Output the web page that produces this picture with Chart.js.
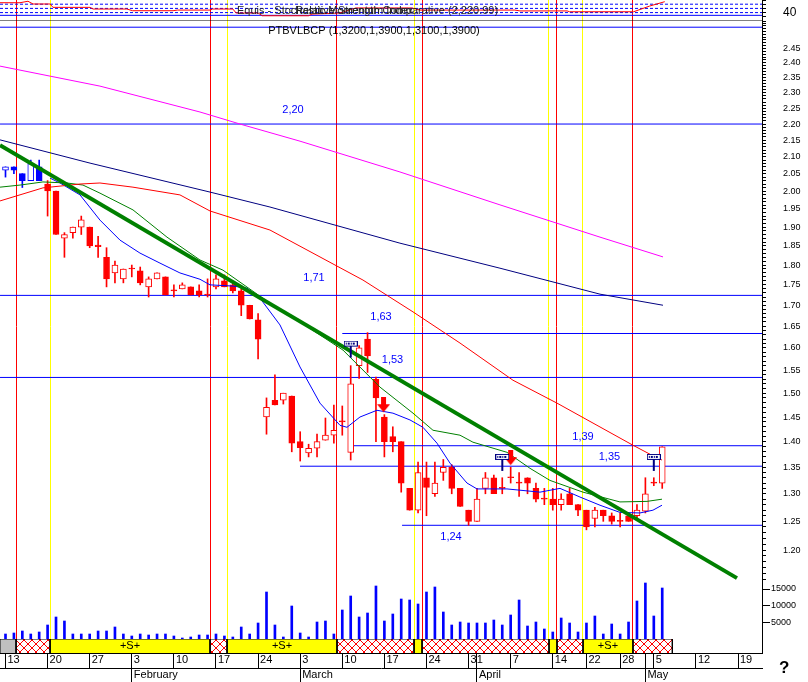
<!DOCTYPE html>
<html>
<head>
<meta charset="utf-8">
<script src="https://cdn.jsdelivr.net/npm/chart.js@4.4.0/dist/chart.umd.min.js"></script>
<style>
  html, body { margin: 0; padding: 0; background: #fff; }
  canvas { display: block; }
</style>
</head>
<body>
<canvas id="chart" width="808" height="682"></canvas>
<script>
// x values are trading-day indexes, 0 = Mon 13 Jan 2003
const dayTickIdx = [0, 5, 10, 15, 20, 25, 30, 35, 40, 45, 50, 55, 56, 60, 65, 69, 73, 76, 77, 82, 87];
const dayTickLbl = ['13', '20', '27', '3', '10', '17', '24', '3', '10', '17', '24', '31', '', '7', '14', '22', '28', '', '5', '12', '19'];
const monthTickIdx = [15, 35, 56, 76];
const monthTickLbl = ['February', 'March', 'April', 'May'];

const opens = [2.06, 2.07, 2.05, 2.03, 2.07, 2.02, 2.00, 1.87, 1.885, 1.90,
  1.90, 1.852, 1.82, 1.78, 1.765, 1.79, 1.785, 1.745, 1.765, 1.77,
  1.735, 1.74, 1.745, 1.735, 1.725, 1.745, 1.76, 1.75, 1.735, 1.70,
  1.665, 1.45, 1.485, 1.485, 1.494, 1.40, 1.378, 1.387, 1.403, 1.413,
  1.44, 1.379, 1.56, 1.62, 1.53, 1.45, 1.41, 1.40, 1.31, 1.27,
  1.33, 1.30, 1.34, 1.35, 1.31, 1.27, 1.25, 1.31, 1.33, 1.31,
  1.33, 1.32, 1.33, 1.31, 1.29, 1.29, 1.28, 1.30, 1.28, 1.27,
  1.255, 1.27, 1.26, 1.25, 1.26, 1.26, 1.268, 1.32, 1.32];
const highs = [2.07, 2.07, 2.05, 2.09, 2.09, 2.03, 2.00, 1.885, 1.90, 1.93,
  1.90, 1.875, 1.845, 1.81, 1.79, 1.80, 1.795, 1.77, 1.78, 1.77,
  1.75, 1.755, 1.745, 1.75, 1.765, 1.775, 1.775, 1.755, 1.74, 1.70,
  1.68, 1.49, 1.54, 1.50, 1.494, 1.42, 1.395, 1.415, 1.448, 1.475,
  1.473, 1.56, 1.605, 1.635, 1.535, 1.455, 1.43, 1.40, 1.31, 1.36,
  1.36, 1.36, 1.365, 1.355, 1.31, 1.27, 1.31, 1.34, 1.335, 1.33,
  1.35, 1.34, 1.33, 1.32, 1.31, 1.31, 1.30, 1.31, 1.28, 1.27,
  1.275, 1.27, 1.265, 1.265, 1.265, 1.28, 1.33, 1.33, 1.39];
const lows = [2.04, 2.05, 2.01, 2.03, 2.03, 1.93, 1.88, 1.82, 1.87, 1.88,
  1.845, 1.82, 1.745, 1.755, 1.755, 1.77, 1.75, 1.72, 1.765, 1.725,
  1.72, 1.74, 1.725, 1.72, 1.72, 1.74, 1.745, 1.73, 1.675, 1.667,
  1.575, 1.415, 1.475, 1.477, 1.38, 1.362, 1.37, 1.37, 1.403, 1.397,
  1.413, 1.364, 1.532, 1.545, 1.40, 1.37, 1.38, 1.303, 1.27, 1.265,
  1.26, 1.295, 1.325, 1.30, 1.277, 1.243, 1.25, 1.30, 1.30, 1.30,
  1.32, 1.295, 1.30, 1.285, 1.28, 1.27, 1.27, 1.28, 1.26, 1.235,
  1.24, 1.25, 1.245, 1.24, 1.25, 1.255, 1.265, 1.315, 1.31];
const closes = [2.07, 2.06, 2.03, 2.08, 2.03, 2.00, 1.88, 1.88, 1.90, 1.92,
  1.85, 1.848, 1.765, 1.80, 1.79, 1.79, 1.755, 1.765, 1.78, 1.725,
  1.735, 1.75, 1.725, 1.725, 1.725, 1.765, 1.745, 1.735, 1.70, 1.667,
  1.62, 1.47, 1.475, 1.50, 1.397, 1.388, 1.387, 1.40, 1.413, 1.423,
  1.44, 1.52, 1.60, 1.582, 1.49, 1.40, 1.40, 1.32, 1.27, 1.34,
  1.312, 1.32, 1.35, 1.31, 1.277, 1.25, 1.29, 1.33, 1.30, 1.31,
  1.33, 1.32, 1.32, 1.29, 1.29, 1.28, 1.29, 1.28, 1.27, 1.24,
  1.27, 1.26, 1.25, 1.25, 1.25, 1.27, 1.30, 1.32, 1.39];
const volumes = [1500, 1800, 2400, 1500, 2100, 4200, 6600, 5400, 1500, 1500,
  1500, 2400, 2400, 3600, 1500, 900, 1500, 1200, 1500, 1500,
  900, 300, 600, 1200, 1200, 1500, 900, 600, 3600, 1500,
  4800, 14100, 4200, 600, 9900, 1800, 600, 5100, 5400, 1500,
  8700, 12900, 6600, 7800, 15900, 5400, 7500, 12000, 11700, 10500,
  14100, 15600, 8100, 4200, 5100, 4800, 4800, 4800, 5700, 4200,
  7200, 11700, 3900, 5100, 3000, 2100, 6300, 4800, 2100, 4800,
  6900, 1500, 4500, 1500, 5100, 11400, 16800, 6900, 15300];
const blueCandles = 5; // first bars are drawn in blue

// moving averages, sampled along each line
const maPinkIdx = [-0.65, 11.22, 23.1, 27.85, 34.98, 46.85, 58.73, 70.61, 78.09];
const maPinkVal = [2.389, 2.322, 2.238, 2.200, 2.147, 2.055, 1.961, 1.873, 1.821];
const maNavyIdx = [-0.65, 10.04, 24.29, 31.41, 46.85, 58.73, 70.61, 78.09];
const maNavyVal = [2.151, 2.081, 1.997, 1.955, 1.857, 1.792, 1.727, 1.700];
const maRedIdx = [-0.65, 4.45, 8.85, 11.22, 15.14, 20.72, 24.29, 31.41, 42.46, 48.4, 53.98, 60.27, 65.5, 74.52, 77.38, 77.97];
const maRedVal = [1.972, 2.009, 2.020, 2.023, 2.011, 1.989, 1.944, 1.892, 1.762, 1.684, 1.611, 1.528, 1.479, 1.393, 1.368, 1.364];
const maGreenIdx = [-0.65, 1.72, 4.45, 7.3, 9.2, 11.22, 15.14, 19.18, 23.1, 25.83, 31.06, 34.98, 40.08, 44.48, 48.4, 50.77, 53.98, 55.52, 59.56, 62.29, 64.66, 68.59, 72.98, 76.19, 77.97];
const maGreenVal = [2.011, 2.017, 2.026, 2.023, 2.017, 1.994, 1.947, 1.873, 1.813, 1.787, 1.710, 1.660, 1.595, 1.513, 1.458, 1.423, 1.413, 1.399, 1.379, 1.348, 1.325, 1.303, 1.285, 1.286, 1.290];
const maBlueIdx = [5.29, 6.47, 8.85, 11.22, 13.6, 15.97, 18.35, 20.72, 23.1, 24.29, 27.02, 28.68, 30.23, 32.6, 34.98, 37.35, 39.73, 40.56, 42.1, 44.12, 46.02, 48.04, 49.58, 51.25, 52.79, 54.81, 56.0, 59.56, 63.48, 65.86, 68.23, 70.61, 72.98, 75.36, 76.9, 77.97];
const maBlueVal = [2.037, 2.023, 1.989, 1.919, 1.865, 1.831, 1.805, 1.780, 1.764, 1.750, 1.747, 1.742, 1.717, 1.653, 1.557, 1.479, 1.433, 1.429, 1.450, 1.464, 1.458, 1.444, 1.429, 1.397, 1.358, 1.320, 1.309, 1.309, 1.303, 1.310, 1.294, 1.279, 1.266, 1.265, 1.270, 1.279];
const trendIdx = [-0.65, 86.88];
const trendVal = [2.135, 1.153];

// horizontal levels
const levelVal = [2.525, 2.20, 1.724, 1.633, 1.534, 1.392, 1.352, 1.243];
const levelFrom = [-0.65, -0.65, -0.65, 40.0, -0.65, 40.9, 34.98, 47.1];
const levelText = ['', '2,20', '1,71', '1,63', '1,53', '1,39', '1,35', '1,24'];
const levelTextIdx = [0, 34.15, 36.64, 44.6, 45.96, 68.59, 71.73, 52.91];
const levelTextVal = [0, 2.244, 1.767, 1.672, 1.572, 1.409, 1.370, 1.222];

// system signals (vertical lines and the signal strip)
const signalIdx = [1.25, 5.29, 24.29, 26.31, 39.37, 48.52, 49.47, 64.55, 65.5, 68.59, 74.52];
const signalKind = ['sell', 'buy', 'sell', 'buy', 'sell', 'buy', 'sell', 'buy', 'sell', 'buy', 'sell'];
const signalEnd = 79.2;
const exitIdx = [41, 59, 77];
const exitVal = [1.578, 1.343, 1.343];
const arrowIdx = [44.9, 60.0];
const arrowVal = [1.460, 1.354];

// stochastic panel
const stochIdx = [-0.65, 1.72, 2.67, 3.27, 5.28, 5.64, 10.04, 10.4, 14.4, 15.1, 19.9, 20.4, 24.3, 24.6, 27.0, 27.4, 30.0, 30.5, 36.0, 36.4, 39.7, 41.6, 48.3, 49.2, 60.5, 61.1, 66.7, 67.0, 74.6, 76.5, 78.3];
const stochVal = [87, 87, 94, 81, 81, 65, 65, 57, 57, 49, 49, 52, 52, 57, 57, 38, 38, 25, 25, 33, 38, 62, 62, 52, 52, 48, 48, 44, 44, 71, 92];
const stochGuides = [80, 60, 40];
const stochBase = 27;

const X_MIN = -0.653, X_MAX = 89.85;
const FONT = '"Liberation Sans", Arial, sans-serif';

const ctx = document.getElementById('chart').getContext('2d');

function hatchPattern() {
    const c = document.createElement('canvas');
    c.width = 8; c.height = 8;
    const g = c.getContext('2d');
    g.fillStyle = '#fff';
    g.fillRect(0, 0, 8, 8);
    g.strokeStyle = '#ff0000';
    g.lineWidth = 1;
    g.beginPath();
    g.moveTo(0, 0); g.lineTo(8, 8);
    g.moveTo(8, 0); g.lineTo(0, 8);
    g.stroke();
    return ctx.createPattern(c, 'repeat');
}

function exitMarker() {
    const c = document.createElement('canvas');
    c.width = 14; c.height = 34;
    const g = c.getContext('2d');
    g.fillStyle = '#000080';
    g.fillRect(0, 0, 14, 6);
    g.fillStyle = '#fff';
    g.fillRect(1, 1, 12, 4);
    g.fillStyle = '#000080';
    [2, 4, 5, 7, 9, 10].forEach(px => g.fillRect(px, 2, 1, 2));
    g.fillRect(6, 6, 2, 11);
    return c;
}

function arrowMarker() {
    const c = document.createElement('canvas');
    c.width = 13; c.height = 30;
    const g = c.getContext('2d');
    g.fillStyle = '#ff0000';
    g.fillRect(4, 0, 5, 8);
    g.beginPath();
    g.moveTo(0, 7); g.lineTo(13, 7); g.lineTo(6.5, 15); g.closePath();
    g.fill();
    return c;
}

const pts = (xs, ys) => xs.map((x, k) => ({x: x, y: ys[k]}));
const idx = opens.map((_, i) => i);
const candleColor = idx.map(i => i < blueCandles ? '#0000ff' : '#ff0000');
const bodyFill = idx.map(i => closes[i] > opens[i] ? '#ffffff' : candleColor[i]);

function lineSet(data, color, width, axis, order, dash) {
    return {
        type: 'line', data: data, yAxisID: axis, borderColor: color, borderWidth: width,
        pointRadius: 0, tension: 0, fill: false, order: order, borderDash: dash || []
    };
}

const datasets = [];

// stochastic guides
stochGuides.forEach(v => datasets.push(lineSet(pts([X_MIN, X_MAX], [v, v]), '#0000ff', 1, 'stoch', 9, [3, 2])));
datasets.push(lineSet(pts([X_MIN, X_MAX], [stochBase, stochBase]), '#0000ff', 1, 'stoch', 9));
datasets.push(lineSet(pts([X_MIN, X_MAX], [0, 0]), '#000000', 1, 'stoch', 9));
datasets.push(lineSet(pts(stochIdx, stochVal), '#ff0000', 1, 'stoch', 8));

// levels
levelVal.forEach((v, k) => datasets.push(lineSet(pts([levelFrom[k], X_MAX], [v, v]), '#0000ff', 1, 'y', 7)));

// candles
datasets.push({
    type: 'bar', data: idx.map(i => ({x: i, y: [lows[i], highs[i]]})), yAxisID: 'y',
    backgroundColor: candleColor, barThickness: 1, grouped: false, order: 5
});
datasets.push({
    type: 'bar', data: idx.map(i => ({x: i, y: [opens[i], closes[i]]})), yAxisID: 'y',
    backgroundColor: bodyFill, borderColor: candleColor, borderWidth: 1, borderSkipped: false,
    barThickness: 6, minBarLength: 1, grouped: false, order: 4
});

// moving averages and trend line
datasets.push(lineSet(pts(maPinkIdx, maPinkVal), '#ff00ff', 1, 'y', 3));
datasets.push(lineSet(pts(maNavyIdx, maNavyVal), '#000080', 1, 'y', 3));
datasets.push(lineSet(pts(maRedIdx, maRedVal), '#ff0000', 1, 'y', 3));
datasets.push(lineSet(pts(maGreenIdx, maGreenVal), '#008000', 1, 'y', 3));
datasets.push(lineSet(pts(maBlueIdx, maBlueVal), '#0000ff', 1, 'y', 3));
datasets.push(lineSet(pts(trendIdx, trendVal), '#008000', 4, 'y', 2));

// signal markers
datasets.push({
    type: 'line', showLine: false, data: pts(exitIdx, exitVal), yAxisID: 'y',
    pointStyle: exitMarker(), pointRadius: 5, order: 1
});
datasets.push({
    type: 'line', showLine: false, data: pts(arrowIdx, arrowVal), yAxisID: 'y',
    pointStyle: arrowMarker(), pointRadius: 5, order: 1
});

// volume
datasets.push({
    type: 'bar', data: idx.map(i => ({x: i, y: volumes[i]})), yAxisID: 'vol',
    backgroundColor: '#0000ff', barThickness: 2, grouped: false, order: 6
});

// signal strip
const hatch = hatchPattern();
const stripEdges = [X_MIN].concat(signalIdx, [signalEnd]);
const stripKind = ['none'].concat(signalKind);
stripKind.forEach((kind, k) => {
    const s = stripEdges[k], e = stripEdges[k + 1];
    datasets.push({
        type: 'line', data: pts([s, s, e, e], [0, 1, 1, 0]), yAxisID: 'band',
        borderColor: '#000', borderWidth: 1, pointRadius: 0, tension: 0, fill: 'origin',
        backgroundColor: kind === 'buy' ? '#ffff00' : (kind === 'sell' ? hatch : '#c0c0c0'),
        order: 0
    });
});

const notes = {
    id: 'notes',
    afterDatasetsDraw(chart) {
        const c = chart.ctx, sx = chart.scales.x, sy = chart.scales.y, sb = chart.scales.band;
        const ss = chart.scales.stoch;
        c.save();
        c.textBaseline = 'middle';
        c.textAlign = 'center';
        c.font = '11px ' + FONT;
        c.fillStyle = '#0000ff';
        levelText.forEach((t, k) => {
            if (t) c.fillText(t, sx.getPixelForValue(levelTextIdx[k]), sy.getPixelForValue(levelTextVal[k]));
        });
        c.fillStyle = '#000';
        stripKind.forEach((kind, k) => {
            const s = stripEdges[k], e = stripEdges[k + 1];
            if (kind === 'buy' && e - s > 3) {
                c.fillText('+S+', sx.getPixelForValue((s + e) / 2), sb.getPixelForValue(0.5));
            }
        });
        c.textAlign = 'left';
        c.fillStyle = '#222';
        c.fillText('Equis - Stochastic Momentum Index', sx.getPixelForValue(27.5), ss.getPixelForValue(48));
        c.fillText('Relative Strength Comparative (2,220.99)', sx.getPixelForValue(34.4), ss.getPixelForValue(48));
        const last = opens.length - 1;
        const f = v => v.toFixed(4).replace('.', ',');
        c.fillStyle = '#000';
        c.fillText('PTBVLBCP (' + [opens[last], highs[last], lows[last], closes[last]].map(f).join(',') + ')',
            sx.getPixelForValue(31.2), sy.getPixelForValue(2.511));
        c.font = 'bold 17px ' + FONT;
        c.fillText('?', chart.width - 29, chart.height - 14);
        c.restore();
    }
};

function rightAxis(extra) {
    return Object.assign({
        position: 'right', stack: 'panels', offset: false,
        afterFit: s => { s.width = 46; s.paddingTop = 0; s.paddingBottom = 0; },
        grid: { drawOnChartArea: false, tickLength: 4, color: '#000' },
        border: { display: true, color: '#000' },
        ticks: { autoSkip: false, color: '#000', font: { family: FONT, size: 9 }, padding: 17 }
    }, extra);
}

const priceTicks = [];
for (let p = 115; p <= 254; p++) priceTicks.push(p / 100);

new Chart(ctx, {
    type: 'bar',
    data: { datasets: datasets },
    options: {
        responsive: false,
        animation: false,
        devicePixelRatio: 1,
        layout: { padding: 0, autoPadding: false },
        plugins: { legend: { display: false }, tooltip: { enabled: false } },
        scales: {
            x: {
                type: 'linear', position: 'bottom', min: X_MIN, max: X_MAX, offset: false, weight: 1,
                afterBuildTicks: s => { s.ticks = dayTickIdx.map(v => ({value: v})); },
                afterFit: s => { s.height = 15; s.paddingLeft = 0; s.paddingRight = 0; },
                grid: { drawOnChartArea: false, offset: false, tickLength: 15, color: '#000' },
                border: { display: true, color: '#000' },
                ticks: {
                    autoSkip: false, maxRotation: 0, minRotation: 0, align: 'start', labelOffset: 2,
                    padding: -15, color: '#000', font: { family: FONT, size: 11 },
                    callback: (v, i) => dayTickLbl[i]
                }
            },
            xm: {
                type: 'linear', position: 'bottom', min: X_MIN, max: X_MAX, offset: false, weight: 2,
                afterBuildTicks: s => { s.ticks = monthTickIdx.map(v => ({value: v})); },
                afterFit: s => { s.height = 14; s.paddingLeft = 0; s.paddingRight = 0; },
                grid: { drawOnChartArea: false, offset: false, tickLength: 14, color: '#000' },
                border: { display: true, color: '#000' },
                ticks: {
                    autoSkip: false, maxRotation: 0, minRotation: 0, align: 'start', labelOffset: 2,
                    padding: -14, color: '#000', font: { family: FONT, size: 11 },
                    callback: (v, i) => monthTickLbl[i]
                }
            },
            xe: {
                type: 'linear', position: 'top', min: X_MIN, max: X_MAX, offset: false,
                afterBuildTicks: s => { s.ticks = signalIdx.map(v => ({value: v})); },
                afterFit: s => { s.height = 0; s.paddingLeft = 0; s.paddingRight = 0; },
                grid: {
                    drawTicks: false, offset: false, lineWidth: 1,
                    color: c => signalKind[c.index] === 'buy' ? '#ffff00' : '#ff0000'
                },
                border: { display: false },
                ticks: { display: false }
            },
            stoch: rightAxis({
                type: 'linear', min: 0, max: 100, weight: 1, stackWeight: 21,
                afterBuildTicks: s => { s.ticks = [0, 20, 40, 60, 80, 100].map(v => ({value: v})); },
                ticks: {
                    autoSkip: false, color: '#000', font: { family: FONT, size: 12 }, padding: 17,
                    callback: v => v === 40 ? '40' : ''
                }
            }),
            y: rightAxis({
                type: 'logarithmic', min: 1.1499, max: 2.5474, weight: 2, stackWeight: 559,
                afterBuildTicks: s => { s.ticks = priceTicks.map(v => ({value: v})); },
                ticks: {
                    autoSkip: false, color: '#000', font: { family: FONT, size: 9 }, padding: 17,
                    callback: v => {
                        const c = Math.round(v * 100);
                        return (c % 5 === 0 && c >= 120 && c <= 245) ? (c / 100).toFixed(2) : '';
                    }
                }
            }),
            vol: rightAxis({
                type: 'linear', min: 0, max: 17700, weight: 3, stackWeight: 59,
                afterBuildTicks: s => { s.ticks = [5000, 10000, 15000].map(v => ({value: v})); },
                grid: { drawOnChartArea: false, tickLength: 8, color: '#000' },
                ticks: {
                    autoSkip: false, color: '#000', font: { family: FONT, size: 9 }, padding: 1,
                    callback: v => String(v)
                }
            }),
            band: rightAxis({
                type: 'linear', min: 0, max: 1, weight: 4, stackWeight: 14,
                afterBuildTicks: s => { s.ticks = []; },
                grid: { drawOnChartArea: false, drawTicks: false },
                ticks: { display: false }
            })
        }
    },
    plugins: [notes]
});
</script>
</body>
</html>
